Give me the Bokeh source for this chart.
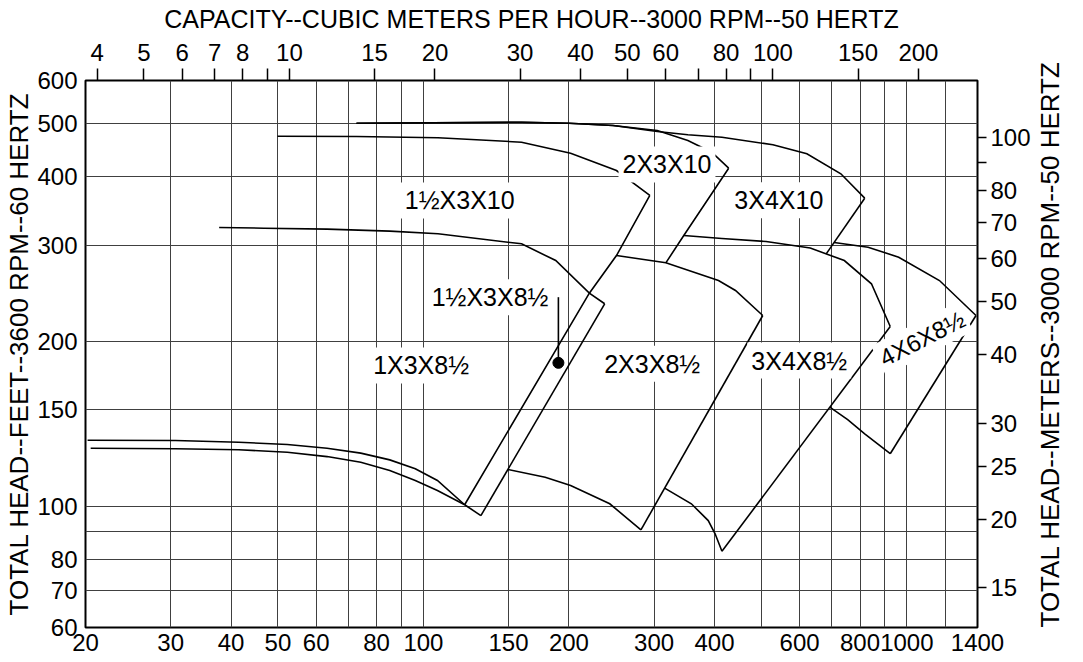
import math
from bokeh.plotting import figure
from bokeh.models import Range1d, LogScale, LogAxis, FixedTicker, Label
from bokeh.embed import file_html
from bokeh.resources import INLINE

FONT = "Liberation Sans"
FS = "24px"       # tick labels
FS_TXT = "25px"   # in-plot labels and top title
FS_SIDE = "26px"  # vertical axis titles

# unit conversions: 3600 rpm US units -> 3000 rpm metric units
KQ = 0.22712 * 3000 / 3600          # gpm -> m3/h
KH = 0.3048 * (3000 / 3600) ** 2    # ft -> m

# ---- axis ticks ----
gpm_ticks = [20, 30, 40, 50, 60, 70, 80, 90, 100, 150, 200, 300, 400, 500, 600, 700, 800, 900, 1000, 1200, 1400]
gpm_unlabeled = [70, 90, 500, 700, 900, 1200]
ft_ticks = [60, 70, 80, 90, 100, 150, 200, 300, 400, 500, 600]
ft_unlabeled = [90]
m3h_ticks = [4, 5, 6, 7, 8, 9, 10, 15, 20, 30, 40, 50, 60, 70, 80, 90, 100, 150, 200]
m3h_unlabeled = [9, 70, 90]
m_ticks = [15, 20, 25, 30, 40, 50, 60, 70, 80, 90, 100]
m_unlabeled = [90]

# ---- curves (gpm, ft) ----
c1x3_hi_gpm = [20.2, 30.7, 41.5, 52.3, 63.2, 74.2, 85.2, 96.2, 106.9, 121.7]
c1x3_hi_ft = [132.0, 131.8, 130.9, 129.6, 127.6, 125.0, 121.5, 117.0, 111.4, 100.6]
c1x3_lo_gpm = [20.5, 30.7, 41.5, 52.3, 63.2, 74.2, 85.2, 96.2, 106.9, 121.7]
c1x3_lo_ft = [127.6, 127.3, 126.8, 125.5, 123.2, 120.3, 116.2, 111.4, 106.8, 100.6]

edge_15x3x10_gpm = [121.7, 220.4, 250.8, 294.0]
edge_15x3x10_ft = [100.6, 245.1, 287.2, 369.8]
band_bot_gpm = [121.7, 131.5]
band_bot_ft = [100.6, 96.1]
band_right_gpm = [131.5, 237.1]
band_right_ft = [96.1, 234.4]

top_1x3_gpm = [37.8, 46.8, 63.2, 85.2, 107.2, 159.6, 187.8, 220.4, 237.1]
top_1x3_ft = [323.2, 322.2, 320.9, 318.2, 314.7, 301.7, 281.2, 245.1, 234.4]

top_15x3x10_gpm = [49.9, 72.7, 107.2, 159.6, 201.6, 250.8, 294.0]
top_15x3x10_ft = [474.6, 474.0, 471.4, 462.8, 441.8, 410.8, 369.8]

top_2x3x10_gpm = [72.7, 159.6, 200.0, 246.8, 304.6, 352.4, 394.8, 428.0]
top_2x3x10_ft = [501.3, 503.4, 501.3, 496.5, 486.1, 466.1, 443.7, 414.8]
top_3x4x10_gpm = [72.7, 159.6, 200.0, 246.8, 304.6, 352.4, 414.5, 528.4, 621.2, 730.2, 818.2]
top_3x4x10_ft = [501.3, 503.4, 501.3, 496.5, 484.1, 477.4, 472.6, 457.7, 440.7, 405.1, 365.6]

edge_2x3x10_gpm = [428.0, 345.6, 317.3]
edge_2x3x10_ft = [414.8, 312.4, 278.5]
edge_3x4x10_gpm = [818.2, 681.1]
edge_3x4x10_ft = [365.6, 289.2]

top_2x3x8_gpm = [250.8, 317.3, 407.7, 442.1, 503.4]
top_2x3x8_ft = [287.2, 278.5, 258.5, 247.9, 223.1]
edge_2x3x8_gpm = [503.4, 281.8]
edge_2x3x8_ft = [223.1, 90.5]
bot_2x3x8_gpm = [149.5, 178.6, 201.6, 242.9, 281.8]
bot_2x3x8_ft = [116.7, 112.9, 109.1, 101.0, 90.5]

top_3x4x8_gpm = [345.6, 414.5, 511.5, 631.2, 742.4, 844.8, 923.9]
top_3x4x8_ft = [312.4, 308.5, 304.7, 296.4, 281.2, 255.0, 213.0]
edge_3x4x8_gpm = [923.9, 414.5]
edge_3x4x8_ft = [213.0, 82.7]
bot_3x4x8_gpm = [315.5, 358.3, 388.3, 401.2, 414.5]
bot_3x4x8_ft = [107.9, 101.0, 94.1, 89.0, 82.7]

top_4x6x8_gpm = [707.2, 831.4, 961.9, 1168.0, 1390.0]
top_4x6x8_ft = [303.3, 297.4, 285.2, 258.5, 223.1]
edge_4x6x8_gpm = [1390.0, 923.9]
edge_4x6x8_ft = [223.1, 124.7]
bot_4x6x8_gpm = [692.8, 754.4, 818.2, 923.9]
bot_4x6x8_ft = [151.7, 144.0, 135.6, 124.7]

point_gpm = [190.2]
point_ft = [182.8]
leader_gpm = [190.2, 190.2]
leader_ft = [241.0, 182.8]

# labels: text, gpm, ft
label_text = ["1½X3X10", "2X3X10", "3X4X10", "1X3X8½", "2X3X8½", "3X4X8½"]
label_gpm = [118.9, 319.0, 543.5, 98.9, 297.3, 599.0]
label_ft = [362.1, 421.3, 362.5, 180.8, 182.1, 184.6]

RIGHT_TITLE = "TOTAL HEAD--METERS--3000 RPM--50 HERTZ"


def overrides(ticks, unlabeled):
    return {t: ("" if t in unlabeled else str(t)) for t in ticks}


p = figure(width=1083, height=662, x_axis_type="log", y_axis_type="log",
           x_range=Range1d(20, 1400), y_range=Range1d(60, 600),
           output_backend="svg", toolbar_location=None,
           min_border_left=85, min_border_right=106, min_border_top=80, min_border_bottom=35)
p.background_fill_color = "white"
p.border_fill_color = "white"
p.outline_line_color = "black"
p.outline_line_width = 2

p.extra_x_ranges = {"m3h": Range1d(20 * KQ, 1400 * KQ)}
p.extra_x_scales = {"m3h": LogScale()}
p.extra_y_ranges = {"m": Range1d(60 * KH, 600 * KH)}
p.extra_y_scales = {"m": LogScale()}

xa = p.xaxis[0]
ya = p.yaxis[0]
xa.ticker = FixedTicker(ticks=gpm_ticks)
xa.major_label_overrides = overrides(gpm_ticks, gpm_unlabeled)
ya.ticker = FixedTicker(ticks=ft_ticks)
ya.major_label_overrides = overrides(ft_ticks, ft_unlabeled)
ya.axis_label = "TOTAL HEAD--FEET--3600 RPM--60 HERTZ"

top = LogAxis(x_range_name="m3h", ticker=FixedTicker(ticks=m3h_ticks))
top.major_label_overrides = overrides(m3h_ticks, m3h_unlabeled)
top.axis_label = "CAPACITY--CUBIC METERS PER HOUR--3000 RPM--50 HERTZ"
p.add_layout(top, "above")

right = LogAxis(y_range_name="m", ticker=FixedTicker(ticks=m_ticks))
right.major_label_overrides = overrides(m_ticks, m_unlabeled)
right.axis_label = RIGHT_TITLE
props = right.properties()
if "axis_label_orientation" in props:
    right.axis_label_orientation = math.pi / 2
    if "axis_label_align" in props:
        right.axis_label_align = "start"
p.add_layout(right, "right")

for ax in (xa, ya, top, right):
    ax.axis_line_color = None
    ax.minor_tick_line_color = None
    ax.major_tick_in = 0
    ax.major_tick_line_color = "black"
    ax.major_tick_line_width = 1.5
    ax.major_label_text_font = FONT
    ax.major_label_text_font_size = FS
    ax.major_label_text_color = "black"
    ax.axis_label_text_font = FONT
    ax.axis_label_text_font_size = FS_SIDE
    ax.axis_label_text_font_style = "normal"
    ax.axis_label_text_color = "black"
top.axis_label_text_font_size = FS_TXT

xa.major_tick_out = 0
xa.major_label_standoff = 6
ya.major_tick_out = 0
ya.major_label_standoff = 8
ya.axis_label_standoff = 0
top.major_tick_out = 12
top.major_label_standoff = 8
top.axis_label_standoff = 8
right.major_tick_out = 9
right.major_label_standoff = 4
right.axis_label_standoff = 16

p.grid.grid_line_color = "#404040"
p.grid.grid_line_width = 1

curves = [
    (c1x3_hi_gpm, c1x3_hi_ft), (c1x3_lo_gpm, c1x3_lo_ft),
    (edge_15x3x10_gpm, edge_15x3x10_ft), (band_bot_gpm, band_bot_ft), (band_right_gpm, band_right_ft),
    (top_1x3_gpm, top_1x3_ft), (top_15x3x10_gpm, top_15x3x10_ft),
    (top_2x3x10_gpm, top_2x3x10_ft), (top_3x4x10_gpm, top_3x4x10_ft),
    (edge_2x3x10_gpm, edge_2x3x10_ft), (edge_3x4x10_gpm, edge_3x4x10_ft),
    (top_2x3x8_gpm, top_2x3x8_ft), (edge_2x3x8_gpm, edge_2x3x8_ft), (bot_2x3x8_gpm, bot_2x3x8_ft),
    (top_3x4x8_gpm, top_3x4x8_ft), (edge_3x4x8_gpm, edge_3x4x8_ft), (bot_3x4x8_gpm, bot_3x4x8_ft),
    (top_4x6x8_gpm, top_4x6x8_ft), (edge_4x6x8_gpm, edge_4x6x8_ft), (bot_4x6x8_gpm, bot_4x6x8_ft),
    (leader_gpm, leader_ft),
]
for gx, hy in curves:
    p.line(gx, hy, line_color="black", line_width=1.6, line_join="miter")

p.scatter(point_gpm, point_ft, size=11, color="black")

for t, gx, hy in zip(label_text, label_gpm, label_ft):
    p.add_layout(Label(x=gx, y=hy, text=t, text_align="center", text_baseline="middle",
                       text_font=FONT, text_font_size=FS_TXT, text_color="black",
                       background_fill_color="white", padding=4))

p.add_layout(Label(x=point_gpm[0], y=leader_ft[0], x_offset=-6, text="1½X3X8½",
                   text_align="right", text_baseline="middle",
                   text_font=FONT, text_font_size=FS_TXT, text_color="black",
                   background_fill_color="white", padding=4))

p.add_layout(Label(x=1075.6, y=202.5, text="4X6X8½", angle=27, angle_units="deg",
                   text_align="center", text_baseline="middle",
                   text_font=FONT, text_font_size=FS, text_color="black",
                   background_fill_color="white", padding=3))

open("out.html", "w").write(file_html(p, INLINE))
